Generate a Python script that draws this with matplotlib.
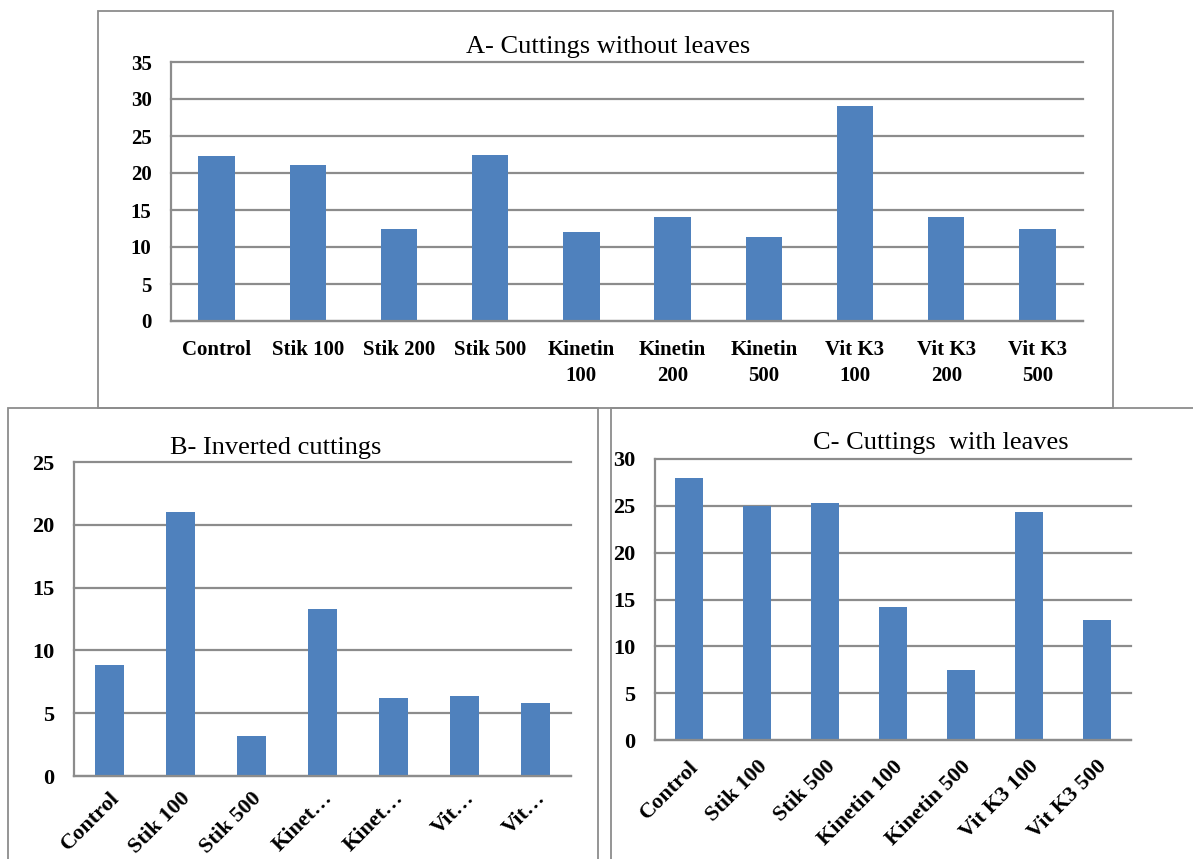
import matplotlib
matplotlib.use('Agg')
import matplotlib.pyplot as plt
from matplotlib.patches import Rectangle

# Panel A - cuttings without leaves
labels_a = ['Control', 'Stik 100', 'Stik 200', 'Stik 500', 'Kinetin\n100',
            'Kinetin\n200', 'Kinetin\n500', 'Vit K3\n100', 'Vit K3\n200', 'Vit K3\n500']
values_a = [22.3, 21.1, 12.5, 22.5, 12.0, 14.05, 11.4, 29.0, 14.0, 12.5]

# Panel B - inverted cuttings
labels_b = ['Control', 'Stik 100', 'Stik 500', 'Kinet…', 'Kinet…', 'Vit…', 'Vit…']
values_b = [8.8, 21.05, 3.2, 13.3, 6.25, 6.35, 5.8]

# Panel C - cuttings with leaves
labels_c = ['Control', 'Stik 100', 'Stik 500', 'Kinetin 100', 'Kinetin 500',
            'Vit K3 100', 'Vit K3 500']
values_c = [27.95, 25.0, 25.3, 14.25, 7.5, 24.3, 12.8]

W, H = 1193, 859
BAR = '#4F81BD'
GRID = '#8C8C8C'

plt.rcParams['font.family'] = ['Liberation Serif', 'DejaVu Serif']

fig = plt.figure(figsize=(W / 100, H / 100), dpi=100)


def px_axes(x0, y0, x1, y1):
    # pixel box (top-left origin) -> figure axes
    return fig.add_axes([x0 / W, 1 - y1 / H, (x1 - x0) / W, (y1 - y0) / H])


def frame(x0, y0, x1, y1):
    fig.patches.append(Rectangle((x0 / W, 1 - y1 / H), (x1 - x0) / W, (y1 - y0) / H,
                                 transform=fig.transFigure, fill=False,
                                 edgecolor='#8C8C8C', lw=1.3, zorder=0))


def style(ax, ymax, step, fs):
    ax.set_ylim(0, ymax)
    ax.set_yticks(range(0, ymax + 1, step))
    ax.yaxis.grid(True, color=GRID, lw=1.6)
    for g in ax.get_ygridlines():
        g.set_clip_on(False)
    ax.set_axisbelow(True)
    for s in ['top', 'right']:
        ax.spines[s].set_visible(False)
    for s in ['left', 'bottom']:
        ax.spines[s].set_color(GRID)
        ax.spines[s].set_linewidth(1.6)
    ax.tick_params(axis='both', length=0, labelsize=fs)
    ax.tick_params(axis='y', pad=14)
    for t in ax.get_yticklabels():
        t.set_fontweight('bold')


frame(98, 11, 1113, 408)
frame(8, 408, 598, 870)
frame(611, 408, 1205, 870)

# A
ax_a = px_axes(171, 62, 1083, 321)
x = range(len(values_a))
ax_a.bar(x, values_a, width=0.4, color=BAR)
ax_a.set_xlim(-0.5, len(values_a) - 0.5)
ax_a.set_xticks(list(x))
ax_a.set_xticklabels(labels_a, fontweight='bold', linespacing=1.4)
style(ax_a, 35, 5, 15)
ax_a.tick_params(axis='x', pad=14)
fig.text(608 / W, 1 - 47 / H, 'A- Cuttings without leaves', ha='center', va='center', fontsize=19)

# B
ax_b = px_axes(74, 462, 571, 776)
x = range(len(values_b))
ax_b.bar(x, values_b, width=0.4, color=BAR)
ax_b.set_xlim(-0.5, len(values_b) - 0.5)
ax_b.set_xticks(list(x))
ax_b.set_xticklabels(labels_b, fontweight='bold', rotation=45, ha='right',
                     rotation_mode='anchor')
style(ax_b, 25, 5, 16)
ax_b.tick_params(axis='x', pad=9)
fig.text(276 / W, 1 - 448 / H, 'B- Inverted cuttings', ha='center', va='center', fontsize=19)

# C
ax_c = px_axes(655, 459, 1131, 740)
x = range(len(values_c))
ax_c.bar(x, values_c, width=0.4, color=BAR)
ax_c.set_xlim(-0.5, len(values_c) - 0.5)
ax_c.set_xticks(list(x))
ax_c.set_xticklabels(labels_c, fontweight='bold', rotation=45, ha='right',
                     rotation_mode='anchor')
style(ax_c, 30, 5, 16)
ax_c.tick_params(axis='x', pad=12)
fig.text(941 / W, 1 - 443 / H, 'C- Cuttings  with leaves', ha='center', va='center', fontsize=19)

fig.savefig('out.png', dpi=100)
